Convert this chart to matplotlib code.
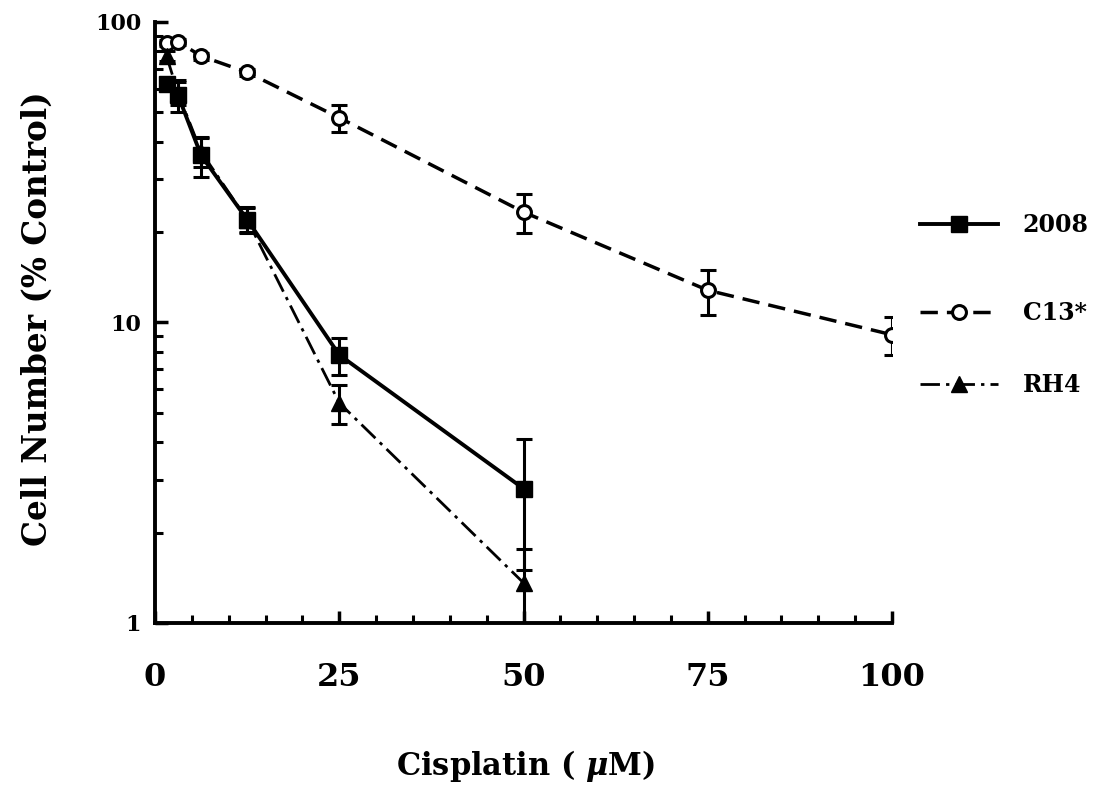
import matplotlib
matplotlib.use("Agg")
import matplotlib.pyplot as plt
from matplotlib.lines import Line2D
from matplotlib.ticker import FixedLocator, NullFormatter, LogLocator

# Cisplatin concentrations (uM) and cell survival (% of control)
conc_2008 = [1.56, 3.125, 6.25, 12.5, 25, 50]
surv_2008 = [62, 57, 36, 22, 7.8, 2.8]
err_2008 = [2, 7, 5.5, 2.2, 1.1, 1.3]

conc_c13 = [1.56, 3.125, 6.25, 12.5, 25, 50, 75, 100]
surv_c13 = [85, 86, 77, 68, 48, 23.3, 12.8, 9.1]
err_c13 = [2, 2, 2, 2, 5, 3.5, 2.2, 1.3]

conc_rh4 = [1.56, 3.125, 6.25, 12.5, 25, 50]
surv_rh4 = [77, 58, 37, 22, 5.4, 1.36]
err_rh4 = [3, 5, 4, 2, 0.8, 0.4]

series_labels = ["2008", "C13*", "RH4"]
x_ticks = [0, 25, 50, 75, 100]
y_ticks = [1, 10, 100]

plt.rcParams["font.family"] = ["DejaVu Serif"]
plt.rcParams["font.weight"] = "bold"
plt.rcParams["mathtext.fontset"] = "dejavuserif"

fig = plt.figure(figsize=(10.94, 7.90), dpi=100)
ax = fig.add_axes([0.1417, 0.2114, 0.8154 - 0.1417, 0.9722 - 0.2114])

style_2008 = dict(color="black", lw=2.8, ls="-", marker="s", ms=11,
                  mfc="black", mec="black")
style_c13 = dict(color="black", lw=2.5, ls=(0, (5, 2.6)), marker="o", ms=10,
                 mfc="white", mec="black", mew=2.2)
style_rh4 = dict(color="black", lw=2.0, ls=(0, (7, 2.2, 1.2, 2.2)), marker="^",
                 ms=11, mfc="black", mec="black")

eb_kw = dict(ecolor="black", elinewidth=2.2, capsize=6, capthick=2.2)

ax.errorbar(conc_c13, surv_c13, yerr=err_c13, zorder=3, **eb_kw, **style_c13)
ax.errorbar(conc_rh4, surv_rh4, yerr=err_rh4, zorder=4, **eb_kw, **style_rh4)
ax.errorbar(conc_2008, surv_2008, yerr=err_2008, zorder=5, **eb_kw, **style_2008)

ax.set_yscale("log")
ax.set_xlim(0, 100)
ax.set_ylim(1, 100)

for side in ("top", "right"):
    ax.spines[side].set_visible(False)
for side in ("left", "bottom"):
    ax.spines[side].set_linewidth(2.8)

ax.xaxis.set_major_locator(FixedLocator(x_ticks))
ax.xaxis.set_minor_locator(FixedLocator(list(range(0, 101, 5))))
ax.set_xticklabels([str(t) for t in x_ticks])
ax.yaxis.set_major_locator(FixedLocator(y_ticks))
ax.yaxis.set_minor_locator(LogLocator(base=10, subs=range(2, 10)))
ax.yaxis.set_minor_formatter(NullFormatter())
ax.set_yticklabels([str(t) for t in y_ticks])

ax.tick_params(axis="both", which="major", direction="in", length=9, width=2.5)
ax.tick_params(axis="both", which="minor", direction="in", length=6, width=2.2)
ax.tick_params(axis="x", which="major", labelsize=23, pad=28)
ax.tick_params(axis="y", which="major", labelsize=16, pad=10)
for lab in ax.get_xticklabels() + ax.get_yticklabels():
    lab.set_fontweight("bold")

ax.set_ylabel("Cell Number (% Control)", fontsize=23.5, fontweight="bold")
ax.yaxis.set_label_coords(-0.138, 0.507)
ax.set_xlabel(r"Cisplatin ( $\mu$M)", fontsize=22, fontweight="bold", va="top")
ax.xaxis.set_label_coords(0.502, -0.208)

# Legend entries, one per series, stacked to the right of the plot
handles = [Line2D([], [], **style_2008),
           Line2D([], [], **style_c13),
           Line2D([], [], **style_rh4)]
rows_y = [1 - 225 / 790, 1 - 313 / 790, 1 - 385 / 790]
for h, lab, yy in zip(handles, series_labels, rows_y):
    fig.legend([h], [lab], loc="center left", bbox_to_anchor=(0.841, yy),
               frameon=False, handlelength=3.3, handletextpad=1.05,
               borderpad=0, borderaxespad=0,
               prop={"weight": "bold", "size": 17, "family": "DejaVu Serif"})

fig.savefig("out.png", dpi=100)
